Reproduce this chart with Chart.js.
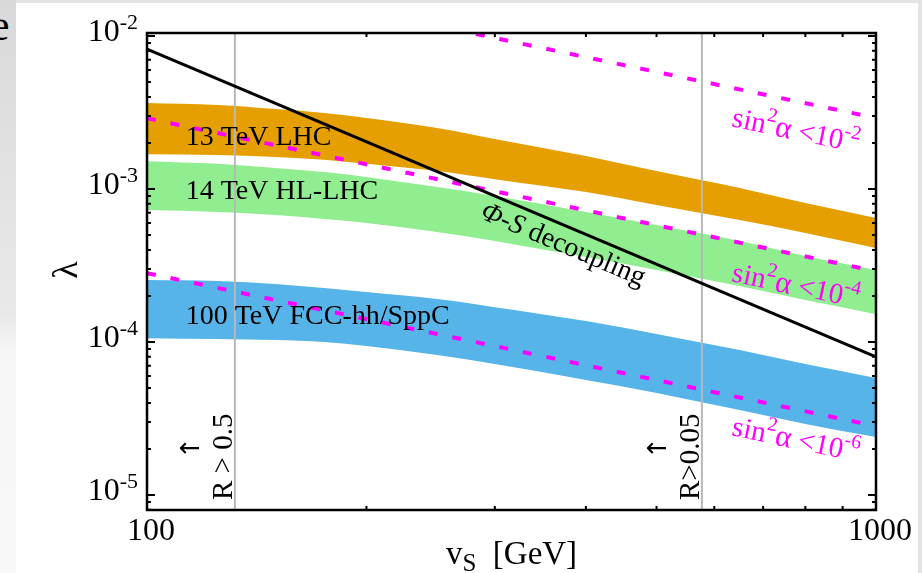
<!DOCTYPE html>
<html>
<head>
<meta charset="utf-8">
<script src="https://cdn.jsdelivr.net/npm/chart.js@4.4.1/dist/chart.umd.min.js"></script>
<style>
  body { margin: 0; width: 922px; height: 573px; overflow: hidden; background: #fff; position: relative; }
  #slideTop { position: absolute; left: 0; top: 0; width: 922px; height: 3px; background: #e3e3e3; }
  #slideLeft { position: absolute; left: 0; top: 0; width: 16px; height: 573px;
    background: linear-gradient(to bottom, #d9d9d9, #e9e9e9 55%, #f6f6f6 62%, #f8f8f8); }
  #slideRight { position: absolute; right: 0; top: 0; width: 4px; height: 573px; background: #e3e3e3; }
  #cut { position: absolute; left: -10px; top: 4px; font: 44px/44px "Liberation Serif", serif; color: #000; }
  canvas { position: absolute; left: 0; top: 0; }
</style>
</head>
<body>
<div id="slideTop"></div>
<div id="slideLeft"></div>
<div id="slideRight"></div>
<div id="cut">e</div>
<canvas id="lambdaChart" width="922" height="573"></canvas>
<script>
// values (v_S in GeV, lambda)
const vS = [100, 125, 150, 175, 200, 250, 300, 400, 500, 650, 800, 1000];
const lhc13Upper = [3.65e-3, 3.54e-3, 3.33e-3, 3.14e-3, 2.91e-3, 2.5e-3, 2.12e-3, 1.64e-3, 1.31e-3, 1.015e-3, 8.1e-4, 6.46e-4];
const lhc13Lower = [1.69e-3, 1.67e-3, 1.62e-3, 1.55e-3, 1.46e-3, 1.31e-3, 1.16e-3, 9.55e-4, 7.86e-4, 6.27e-4, 5.16e-4, 4.11e-4];
const hl14Upper = [1.52e-3, 1.46e-3, 1.37e-3, 1.29e-3, 1.2e-3, 1.03e-3, 9.0e-4, 7.08e-4, 5.82e-4, 4.57e-4, 3.65e-4, 2.96e-4];
const hl14Lower = [7.29e-4, 7.08e-4, 6.76e-4, 6.37e-4, 6.0e-4, 5.24e-4, 4.57e-4, 3.59e-4, 2.96e-4, 2.32e-4, 1.88e-4, 1.52e-4];
const fcc100Upper = [2.54e-4, 2.5e-4, 2.39e-4, 2.25e-4, 2.12e-4, 1.91e-4, 1.69e-4, 1.37e-4, 1.13e-4, 8.87e-5, 7.18e-5, 5.82e-5];
const fcc100Lower = [1.06e-4, 1.046e-4, 1.031e-4, 1.0e-4, 9.42e-5, 8.22e-5, 7.18e-5, 5.64e-5, 4.64e-5, 3.59e-5, 2.91e-5, 2.39e-5];

const lineV = [100, 1000];
const decoupling = [8.2e-3, 8.0e-5];
const mixE2 = [2.91e-2, 2.91e-3];
const mixE4 = [2.9e-3, 2.9e-4];
const mixE6 = [2.82e-4, 2.82e-5];

const rCutV = [132, 577];
const rCutText = ['R > 0.5', 'R>0.05'];

const xRange = [100, 1000];
const yRange = [7.98e-6, 1.046e-2];
const xTickValues = [100, 1000];
const xTickLabels = ['100', '1000'];
const yTickExps = [-5, -4, -3, -2];

const bandNames = ['13 TeV LHC', '14 TeV HL-LHC', '100 TeV FCC-hh/SppC'];
const bandLabelV = 113;
const bandLabelLambda = [2.15e-3, 9.56e-4, 1.46e-4];
const decouplingLabel = { v: 372, lambda: 4.3e-4 };
const mixExps = ['-2', '-4', '-6'];
const mixLabelV = 776;
const mixLabelLambda = [2.36e-3, 2.29e-4, 2.26e-5];

const serif = '"Liberation Serif", "DejaVu Serif", serif';
const pts = (xs, ys) => xs.map((x, i) => ({ x: x, y: ys[i] }));
const none = 'rgba(0,0,0,0)';

const band = (upper, lower, color) => [
  { data: pts(vS, upper), fill: '+1', backgroundColor: color, borderColor: none, borderWidth: 0,
    pointRadius: 0, cubicInterpolationMode: 'monotone', order: 3 },
  { data: pts(vS, lower), fill: false, borderColor: none, borderWidth: 0,
    pointRadius: 0, cubicInterpolationMode: 'monotone', order: 3 }
];
const mixLine = ys => ({ data: pts(lineV, ys), borderColor: '#ff00ff', borderWidth: 4, borderDash: [9, 15],
  borderCapStyle: 'butt', pointRadius: 0, fill: false, order: 1 });
const cutLine = v => ({ data: pts([v, v], yRange), borderColor: '#b8b8b8', borderWidth: 2,
  pointRadius: 0, fill: false, order: 2 });

// text with superscripts / subscripts: parts = [text, 1 sup | -1 sub | 0, style, scale]
function richText(ctx, parts, x, y, size, align) {
  const fontOf = p => (p[2] || '') + ' ' + Math.round(size * (p[3] || (p[1] ? 0.7 : 1))) + 'px ' + serif;
  let total = 0;
  const ws = parts.map(p => { ctx.font = fontOf(p); const w = ctx.measureText(p[0]).width; total += w; return w; });
  let cx = align === 'right' ? x - total : align === 'center' ? x - total / 2 : x;
  ctx.textAlign = 'left';
  parts.forEach((p, i) => {
    ctx.font = fontOf(p);
    const dy = p[1] === 1 ? -size * 0.36 : p[1] === -1 ? size * 0.22 : 0;
    ctx.fillText(p[0], cx, y + dy);
    cx += ws[i];
  });
}

function slope(chart, xs, ys) {
  const { x, y } = chart.scales;
  return Math.atan2(y.getPixelForValue(ys[1]) - y.getPixelForValue(ys[0]),
                    x.getPixelForValue(xs[1]) - x.getPixelForValue(xs[0]));
}

const decor = {
  id: 'decor',
  afterDatasetsDraw(chart) {
    const { ctx, chartArea: a, scales: { x, y } } = chart;
    ctx.save();
    ctx.fillStyle = '#000';

    // labels inside the plot
    ctx.textBaseline = 'middle';
    bandNames.forEach((name, i) => {
      richText(ctx, [[name, 0]], x.getPixelForValue(bandLabelV), y.getPixelForValue(bandLabelLambda[i]), 28, 'left');
    });

    ctx.save();
    ctx.translate(x.getPixelForValue(decouplingLabel.v), y.getPixelForValue(decouplingLabel.lambda));
    ctx.rotate(slope(chart, lineV, decoupling));
    richText(ctx, [['\u03A6-S', 0, 'italic'], [' decoupling', 0]], 0, 0, 28, 'center');
    ctx.restore();

    const mixAngle = slope(chart, lineV, mixE4);
    ctx.fillStyle = '#ff00ff';
    mixExps.forEach((e, i) => {
      ctx.save();
      ctx.translate(x.getPixelForValue(mixLabelV), y.getPixelForValue(mixLabelLambda[i]));
      ctx.rotate(mixAngle);
      richText(ctx, [['sin', 0], ['2', 1], ['\u03B1', 0, '', 1.08], [' <10', 0], [e, 1]], 0, 0, 29, 'center');
      ctx.restore();
    });

    ctx.fillStyle = '#000';
    rCutV.forEach((v, i) => {
      ctx.save();
      ctx.translate(x.getPixelForValue(v) - 3, a.bottom - 10);
      ctx.rotate(-Math.PI / 2);
      ctx.textBaseline = 'alphabetic';
      richText(ctx, [[rCutText[i], 0]], 0, 0, 29, 'left');
      ctx.textBaseline = 'middle';
      ctx.textAlign = 'center';
      ctx.font = '26px "DejaVu Sans", sans-serif';
      ctx.fillText('\u2191', 52, -40);
      ctx.restore();
    });

    // frame
    ctx.strokeStyle = '#000';
    ctx.lineWidth = 2.5;
    ctx.strokeRect(a.left, a.top, a.right - a.left, a.bottom - a.top);

    // inward ticks on all four sides
    ctx.lineWidth = 2;
    ctx.beginPath();
    for (let e = -6; e <= -2; e++) {
      for (let k = 1; k <= 9; k++) {
        const v = k * Math.pow(10, e);
        if (v < yRange[0] || v > yRange[1]) continue;
        const py = y.getPixelForValue(v);
        const len = k === 1 ? 8 : 4;
        ctx.moveTo(a.left, py); ctx.lineTo(a.left + len, py);
        ctx.moveTo(a.right, py); ctx.lineTo(a.right - len, py);
      }
    }
    for (let k = 1; k <= 10; k++) {
      const px = x.getPixelForValue(k * 100);
      const len = (k === 1 || k === 10) ? 8 : 4;
      ctx.moveTo(px, a.bottom); ctx.lineTo(px, a.bottom - len);
      ctx.moveTo(px, a.top); ctx.lineTo(px, a.top + len);
    }
    ctx.stroke();

    // tick labels
    ctx.textBaseline = 'alphabetic';
    yTickExps.forEach(e => {
      richText(ctx, [['10', 0], [String(e), 1]], a.left - 9, y.getPixelForValue(Math.pow(10, e)) + 5, 32, 'right');
    });
    xTickValues.forEach((v, i) => {
      richText(ctx, [[xTickLabels[i], 0]], x.getPixelForValue(v) + 4, a.bottom + 30, 32, 'center');
    });

    // axis titles
    richText(ctx, [['v', 0], ['S', -1, '', 0.75], ['  [GeV]', 0]], (a.left + a.right) / 2, a.bottom + 54, 33, 'center');
    ctx.save();
    ctx.translate(68, 270);
    ctx.rotate(-Math.PI / 2);
    ctx.textBaseline = 'middle';
    richText(ctx, [['\u03BB', 0]], 0, 0, 36, 'center');
    ctx.restore();

    ctx.restore();
  }
};

new Chart(document.getElementById('lambdaChart'), {
  type: 'line',
  data: {
    datasets: [
      { data: pts(lineV, decoupling), borderColor: '#000', borderWidth: 3, pointRadius: 0, fill: false, order: 0 },
      mixLine(mixE2), mixLine(mixE4), mixLine(mixE6),
      cutLine(rCutV[0]), cutLine(rCutV[1]),
      ...band(lhc13Upper, lhc13Lower, '#e69f00'),
      ...band(hl14Upper, hl14Lower, '#90ee90'),
      ...band(fcc100Upper, fcc100Lower, '#56b4e9')
    ]
  },
  options: {
    responsive: false,
    animation: false,
    devicePixelRatio: 1,
    layout: { padding: { left: 147, top: 33, right: 46, bottom: 63 } },
    scales: {
      x: { type: 'logarithmic', min: xRange[0], max: xRange[1], display: false },
      y: { type: 'logarithmic', min: yRange[0], max: yRange[1], display: false }
    },
    plugins: { legend: { display: false }, tooltip: { enabled: false } }
  },
  plugins: [decor]
});
</script>
</body>
</html>
